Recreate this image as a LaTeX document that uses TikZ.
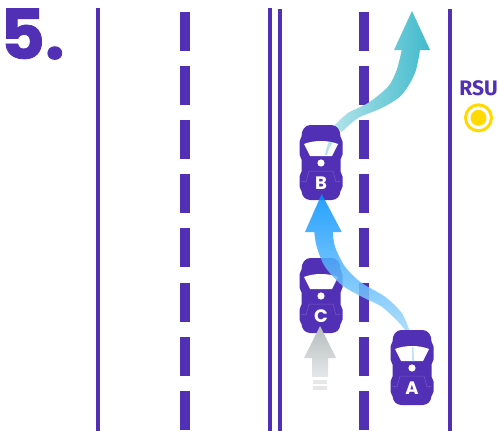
\documentclass[tikz,border=0pt]{standalone}
\usepackage{fontspec}
\setmainfont{Poppins}
\newfontfamily\rsufont{Fira Sans}
\newfontfamily\digitfont[FakeBold=1.1]{Poppins Bold}
\usetikzlibrary{positioning}
\definecolor{roadpurple}{HTML}{5230B5}
\definecolor{rsuyellow}{HTML}{FFD900}
\definecolor{tealhead}{HTML}{40BACC}
\definecolor{tealmid}{HTML}{5CC3D3}
\definecolor{tealtail}{HTML}{B0E2E9}
\definecolor{bluehead}{HTML}{0090FF}
\definecolor{bluemid}{HTML}{0A9AFF}
\definecolor{bluetail}{HTML}{A2D9FC}
\definecolor{grayhead}{HTML}{B5BBBB}
\definecolor{graytail}{HTML}{E6E8E8}
\tikzset{
  roadline/.style={draw=roadpurple,line width=3.6pt},
  lanedash/.style={fill=roadpurple},
  tagtext/.style={text=white,font=\bfseries\fontsize{18}{18}\selectfont,inner sep=0pt},
  pics/carbox/.style={code={
    \fill[roadpurple,rounded corners=1.5pt] (-9,-38) .. controls (-16,-38) and (-19.5,-33) .. (-19.5,-25)
      -- (-21.5,-23) -- (-21.5,-7) -- (-19.5,-5) -- (-19.5,10) -- (-21.5,12) -- (-21.5,25) -- (-19.5,27)
      .. controls (-19,33) and (-16,37) .. (-9,37) -- (9,37)
      .. controls (16,37) and (19,33) .. (19.5,27) -- (21.5,25) -- (21.5,12) -- (19.5,10)
      -- (19.5,-5) -- (21.5,-7) -- (21.5,-23) -- (19.5,-25)
      .. controls (19.5,-33) and (16,-38) .. (9,-38) -- cycle;
    \fill[white] (-17,-19) .. controls (-7,-23) and (7,-23) .. (17,-19)
      -- (11,-7) -- (-11,-7) -- cycle;
    \fill[white] (0,0) circle (3.6);
    \draw[white,opacity=.2,line width=.5pt] (-20,18) -- (-15,19) -- (-12,8) -- (12,8) -- (15,19) -- (20,18);
    \node[tagtext] (label) at (0,20) {#1};
  }}
}
\begin{document}
\begin{tikzpicture}[x=1pt,y=-1pt]
  \useasboundingbox (0,0) rectangle (499,431);
  \fill[white] (0,0) rectangle (499,431);
  \node[text=roadpurple,inner sep=0pt,anchor=west,font=\digitfont\fontsize{69}{69}\selectfont] (fivelabel) at (0,34) {5.};
  % road edges
  \foreach \x/\ystart in {98/8,270/8,280/9,450/9}
    \draw[roadline] (\x,\ystart) -- (\x,431);
  % lane dashes
  \foreach \x in {185,364}
    \foreach \ystart in {12,66,120,174,228,283,337,391}
      \fill[lanedash] (\x-5,\ystart) rectangle (\x+5,\ystart+38.5);
  % change of lane, B
  \shade[left color=tealtail,middle color=tealmid,right color=tealhead]
    (412,11) -- (430,50) -- (420,50)
    -- plot[smooth] coordinates {(420,50) (415,73) (401.7,95) (381.7,108) (358,118) (341.7,132)}
    -- plot[smooth] coordinates {(335,125) (348,113) (368,103) (388,86.7) (396.7,70) (401.7,50)}
    -- (394,50) -- cycle;
  % cars below the arrows
  \pic (carb) at (321,163) {carbox=B};
  \fill[tealtail] (325,155) .. controls (326,150) and (327,146) .. (329,142) -- (333,142) .. controls (330,146) and (328,150) .. (327,155) -- cycle;
  \pic (carc) at (321,296) {carbox=C};
  % change of lane, A
  \shade[top color=bluehead,middle color=bluemid,bottom color=bluetail,opacity=.85]
    (321.7,194) -- (341.7,232) -- (332.7,232)
    -- plot[smooth] coordinates {(332.7,232) (335,246.7) (345,266.7) (361.7,283) (385,296.7) (401.7,313) (410,332)}
    -- plot[smooth] coordinates {(406.7,332) (398,321.7) (381.7,306.7) (361.7,296.7) (341.7,285) (325,266.7) (316.7,246.7) (314.3,232)}
    -- (305,232) -- cycle;
  \pic (cara) at (412,368) {carbox=A};
  \fill[bluetail!70!white] (412,347) -- (413.5,347) -- (414,361) -- (412,361) -- cycle;
  % way ahead, C
  \shade[top color=grayhead,bottom color=graytail]
    (320,326) -- (336,358) -- (328,358) -- (328,377) -- (312,377) -- (312,358) -- (304,358) -- cycle;
  \fill[graytail] (313,380) rectangle (327,384);
  \fill[graytail] (313,386) rectangle (327,390);
  % side unit
  \node[text=roadpurple,inner sep=0pt,font=\rsufont\bfseries\fontsize{21}{21}\selectfont] (rsulabel) at (478.5,88) {RSU};
  \node[circle,draw=rsuyellow,line width=3pt,minimum size=26pt,inner sep=0pt,below=7.5pt of rsulabel] (rsuring) {};
  \fill[rsuyellow] (rsuring.center) circle (8);
\end{tikzpicture}
\end{document}
